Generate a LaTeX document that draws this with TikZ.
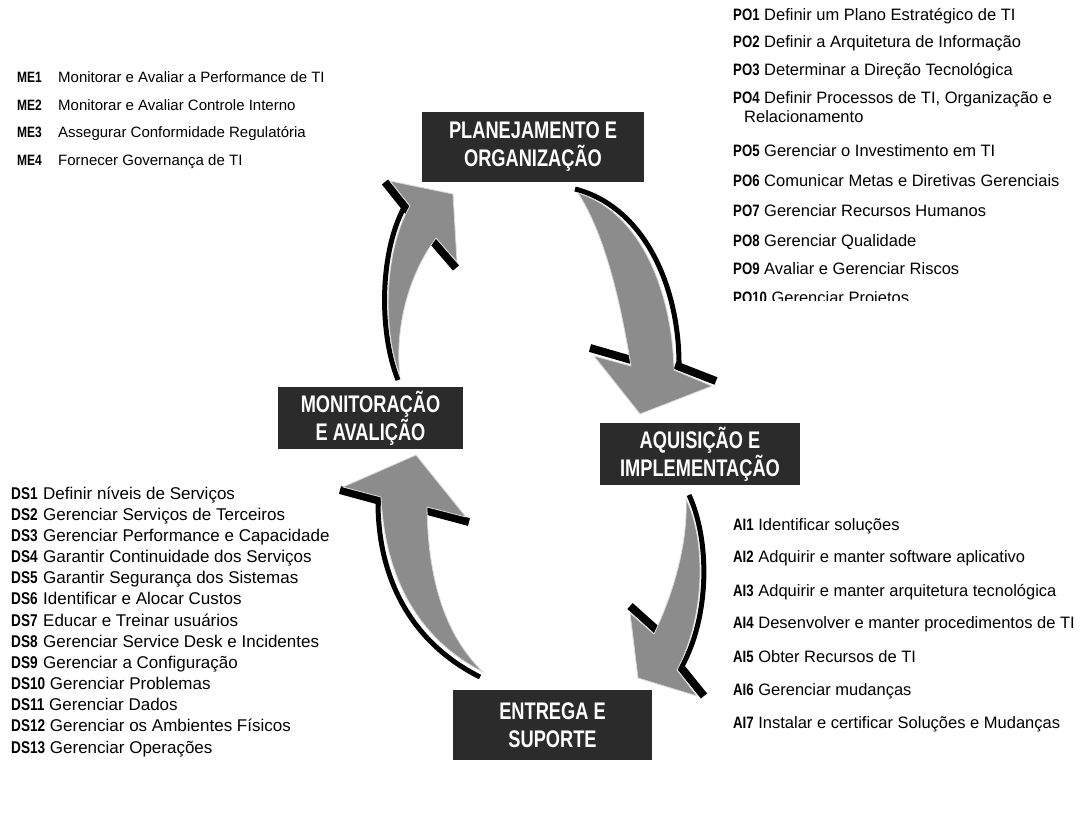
\documentclass[tikz,border=0pt]{standalone}
\usepackage{fontspec}
\setmainfont{Liberation Sans}
\newfontfamily\hdrfont[FakeStretch=0.76]{Liberation Sans}
\newfontfamily\lblfont[FakeStretch=0.8]{Liberation Sans}
\definecolor{phasebg}{HTML}{2B2B2B}
\definecolor{arrowgray}{HTML}{8C8C8C}
\newcommand{\lbl}[1]{{\lblfont\bfseries #1}}
\begin{document}
\begin{tikzpicture}[x=1pt,y=-1pt,
  phase/.style={fill=phasebg, text=white, align=center, inner sep=0pt,
    font=\hdrfont\bfseries\fontsize{24}{28}\selectfont},
  poitem/.style={anchor=base west, inner sep=0pt, align=left,
    font=\fontsize{16.5}{19}\selectfont},
  meitem/.style={anchor=base west, inner sep=0pt, font=\fontsize{15}{18}\selectfont},
  dsitem/.style={anchor=base west, inner sep=0pt, font=\fontsize{17}{20}\selectfont},
  arrowrim/.style={black, line width=5pt},
  arrowbar/.style={black, line width=8pt},
  arrowbody/.style={fill=arrowgray, draw=white!85!black, line width=0.8pt, line join=round}
]
\useasboundingbox[fill=white] (0,0) rectangle (1083,823);

% ---- the four phases ----
\node[phase, minimum width=222pt, minimum height=70pt] (po) at (533,147) {PLANEJAMENTO E\\ORGANIZAÇÃO};
\node[phase, minimum width=185pt, minimum height=62pt] (me) at (370.5,418) {MONITORAÇÃO\\E AVALIÇÃO};
\node[phase, minimum width=200pt, minimum height=62pt] (ai) at (700,454) {AQUISIÇÃO E\\IMPLEMENTAÇÃO};
\node[phase, minimum width=199pt, minimum height=70pt] (ds) at (552.5,725) {ENTREGA E\\SUPORTE};

% ---- cycle arrows: black rim, black barbs, grey body ----
% PO -> AI
\draw[arrowrim] (575,189) .. controls (645,207) and (680,288) .. (679,368);
\draw[arrowbar] (590,348) -- (635,361);
\draw[arrowbar] (675,365) -- (716,381);
\filldraw[arrowbody] (578,193) .. controls (640,212) and (672,290) .. (674,370)
  -- (712,386) -- (640,414) -- (594,356) -- (631,366)
  .. controls (620,300) and (605,235) .. (578,193) -- cycle;

% AI -> DS
\draw[arrowrim] (689,495) .. controls (710,540) and (710,617) .. (681,668);
\draw[arrowbar] (630,606) -- (660,633);
\draw[arrowbar] (679,665) -- (704,696);
\filldraw[arrowbody] (686,499) .. controls (706,540) and (706,615) .. (677,670)
  -- (697,696) -- (638,678) -- (630,613) -- (654,634)
  .. controls (675,590) and (688,540) .. (686,499) -- cycle;

% DS -> ME
\draw[arrowrim] (480,677) .. controls (414,644) and (378,582) .. (378,502);
\draw[arrowbar] (340,490) -- (384,502);
\draw[arrowbar] (424,510) -- (469,522);
\filldraw[arrowbody] (483,672) .. controls (420,640) and (385,580) .. (381,497)
  -- (343,487) -- (416,455) -- (466,517) -- (427,507)
  .. controls (428,580) and (445,635) .. (483,672) -- cycle;

% ME -> PO
\draw[arrowrim] (398,380) .. controls (378,330) and (380,248) .. (406,204);
\draw[arrowbar] (385,182) -- (409,212);
\draw[arrowbar] (431,239) -- (456,268);
\filldraw[arrowbody] (400,376) .. controls (382,330) and (384,250) .. (410,206)
  -- (390,181) -- (453,194) -- (457,262) -- (436,238)
  .. controls (405,280) and (395,335) .. (400,376) -- cycle;

% ---- PO processes ----
\node[poitem] (po1) at (733,20)  {\lbl{PO1} Definir um Plano Estratégico de TI};
\node[poitem] (po2) at (733,47)  {\lbl{PO2} Definir a Arquitetura de Informação};
\node[poitem] (po3) at (733,75)  {\lbl{PO3} Determinar a Direção Tecnológica};
\node[poitem] (po4) at (733,122) {\lbl{PO4} Definir Processos de TI, Organização e\\\hspace*{11pt}Relacionamento};
\node[poitem] (po5) at (733,156) {\lbl{PO5} Gerenciar o Investimento em TI};
\node[poitem] (po6) at (733,186) {\lbl{PO6} Comunicar Metas e Diretivas Gerenciais};
\node[poitem] (po7) at (733,216) {\lbl{PO7} Gerenciar Recursos Humanos};
\node[poitem] (po8) at (733,246) {\lbl{PO8} Gerenciar Qualidade};
\node[poitem] (po9) at (733,274) {\lbl{PO9} Avaliar e Gerenciar Riscos};
\begin{scope}
  \clip (700,0) rectangle (1083,300);
  \node[poitem] (po10) at (733,303) {\lbl{PO10} Gerenciar Projetos};
\end{scope}

% ---- AI processes ----
\node[poitem] (ai1) at (733,530) {\lbl{AI1} Identificar soluções};
\node[poitem] (ai2) at (733,562) {\lbl{AI2} Adquirir e manter software aplicativo};
\node[poitem] (ai3) at (733,596) {\lbl{AI3} Adquirir e manter arquitetura tecnológica};
\node[poitem] (ai4) at (733,628) {\lbl{AI4} Desenvolver e manter procedimentos de TI};
\node[poitem] (ai5) at (733,662) {\lbl{AI5} Obter Recursos de TI};
\node[poitem] (ai6) at (733,695) {\lbl{AI6} Gerenciar mudanças};
\node[poitem] (ai7) at (733,728) {\lbl{AI7} Instalar e certificar Soluções e Mudanças};

% ---- ME processes ----
\node[meitem] (me1) at (17,82)  {\makebox[41pt][l]{\lbl{ME1}}Monitorar e Avaliar a Performance de TI};
\node[meitem] (me2) at (17,110) {\makebox[41pt][l]{\lbl{ME2}}Monitorar e Avaliar Controle Interno};
\node[meitem] (me3) at (17,137) {\makebox[41pt][l]{\lbl{ME3}}Assegurar Conformidade Regulatória};
\node[meitem] (me4) at (17,165) {\makebox[41pt][l]{\lbl{ME4}}Fornecer Governança de TI};

% ---- DS processes ----
\node[dsitem] (ds1)  at (11,499)   {\makebox[32pt][l]{\lbl{DS1}}Definir níveis de Serviços};
\node[dsitem] (ds2)  at (11,520.2) {\makebox[32pt][l]{\lbl{DS2}}Gerenciar Serviços de Terceiros};
\node[dsitem] (ds3)  at (11,541.3) {\makebox[32pt][l]{\lbl{DS3}}Gerenciar Performance e Capacidade};
\node[dsitem] (ds4)  at (11,562.5) {\makebox[32pt][l]{\lbl{DS4}}Garantir Continuidade dos Serviços};
\node[dsitem] (ds5)  at (11,583.7) {\makebox[32pt][l]{\lbl{DS5}}Garantir Segurança dos Sistemas};
\node[dsitem] (ds6)  at (11,604.9) {\makebox[32pt][l]{\lbl{DS6}}Identificar e Alocar Custos};
\node[dsitem] (ds7)  at (11,626)   {\makebox[32pt][l]{\lbl{DS7}}Educar e Treinar usuários};
\node[dsitem] (ds8)  at (11,647.2) {\makebox[32pt][l]{\lbl{DS8}}Gerenciar Service Desk e Incidentes};
\node[dsitem] (ds9)  at (11,668.4) {\makebox[32pt][l]{\lbl{DS9}}Gerenciar a Configuração};
\node[dsitem] (ds10) at (11,689.5) {\lbl{DS10} Gerenciar Problemas};
\node[dsitem] (ds11) at (11,710.7) {\lbl{DS11} Gerenciar Dados};
\node[dsitem] (ds12) at (11,731.9) {\lbl{DS12} Gerenciar os Ambientes Físicos};
\node[dsitem] (ds13) at (11,753)   {\lbl{DS13} Gerenciar Operações};
\end{tikzpicture}
\end{document}
